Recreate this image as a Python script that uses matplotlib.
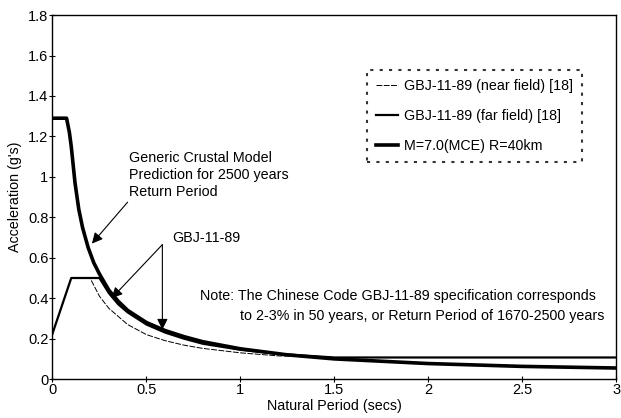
import matplotlib
matplotlib.use("Agg")
import matplotlib.pyplot as plt
from matplotlib.lines import Line2D

plt.rcParams['font.family'] = ['Liberation Sans', 'DejaVu Sans']

# M=7.0 (MCE) R=40km generic crustal model spectrum
mce_period = [0, 0.075, 0.09, 0.10, 0.11, 0.12, 0.14, 0.16, 0.19, 0.22, 0.25, 0.30,
              0.35, 0.40, 0.50, 0.60, 0.70, 0.80, 1.00, 1.25, 1.50, 2.00, 2.50, 3.00]
mce_acc = [1.29, 1.29, 1.22, 1.15, 1.06, 0.97, 0.84, 0.75, 0.65, 0.575, 0.52, 0.44,
           0.385, 0.34, 0.28, 0.24, 0.21, 0.185, 0.15, 0.12, 0.10, 0.077, 0.063, 0.055]

# GBJ-11-89 far field
far_period = [0, 0.10, 0.25, 0.30, 0.35, 0.40, 0.50, 0.60, 0.70, 0.80, 1.00, 1.20, 1.50, 3.00]
far_acc = [0.225, 0.50, 0.50, 0.425, 0.37, 0.33, 0.27, 0.23, 0.20, 0.175, 0.145, 0.125, 0.107, 0.107]

# GBJ-11-89 near field
near_period = [0, 0.10, 0.20, 0.25, 0.30, 0.40, 0.50, 0.60, 0.70, 0.80, 1.00, 1.20, 1.50, 3.00]
near_acc = [0.225, 0.50, 0.50, 0.41, 0.35, 0.27, 0.22, 0.19, 0.168, 0.152, 0.13, 0.115, 0.107, 0.107]

x_ticks = [0, 0.5, 1, 1.5, 2, 2.5, 3]
x_tick_labels = ["0", "0.5", "1", "1.5", "2", "2.5", "3"]
y_ticks = [0, 0.2, 0.4, 0.6, 0.8, 1.0, 1.2, 1.4, 1.6, 1.8]
y_tick_labels = ["0", "0.2", "0.4", "0.6", "0.8", "1", "1.2", "1.4", "1.6", "1.8"]

fig = plt.figure(figsize=(6.21, 4.18), dpi=100)
ax = fig.add_axes([0.0845, 0.093, 0.9075, 0.871])

ax.plot(near_period, near_acc, color='black', lw=0.7, ls=(0, (6, 1.5)), zorder=2)
ax.plot(far_period, far_acc, color='black', lw=1.6, zorder=3)
ax.plot(mce_period, mce_acc, color='black', lw=2.6, zorder=4, solid_joinstyle='round')

ax.set_xlim(0, 3)
ax.set_ylim(0, 1.8)
ax.set_xticks(x_ticks)
ax.set_xticklabels(x_tick_labels)
ax.set_yticks(y_ticks)
ax.set_yticklabels(y_tick_labels)
ax.tick_params(direction='inout', length=4, width=0.8, labelsize=10.5, pad=1)
for s in ax.spines.values():
    s.set_linewidth(1.0)

ax.set_xlabel("Natural Period (secs)", fontsize=10.3, labelpad=1)
ax.set_ylabel("Acceleration (g's)", fontsize=10.3, labelpad=4)

# annotations
fs = 10.3
arrow_kw = dict(arrowstyle='-|>', color='black', lw=0.8, mutation_scale=16,
                shrinkA=0, shrinkB=0)
ax.text(0.41, 1.01, "Generic Crustal Model\nPrediction for 2500 years\nReturn Period",
        fontsize=fs, ha='left', va='center', linespacing=1.3)
ax.annotate("", xy=(0.21, 0.67), xytext=(0.40, 0.875), arrowprops=arrow_kw)

ax.text(0.64, 0.70, "GBJ-11-89", fontsize=fs, ha='left', va='center')
ax.annotate("", xy=(0.315, 0.40), xytext=(0.585, 0.665), arrowprops=arrow_kw)
ax.annotate("", xy=(0.585, 0.245), xytext=(0.585, 0.665), arrowprops=arrow_kw)

ax.text(0.785, 0.41, "Note: The Chinese Code GBJ-11-89 specification corresponds",
        fontsize=fs, ha='left', va='center')
ax.text(1.0, 0.31, "to 2-3% in 50 years, or Return Period of 1670-2500 years",
        fontsize=fs, ha='left', va='center')

handles = [
    Line2D([], [], color='black', lw=0.7, ls=(0, (6, 1.5))),
    Line2D([], [], color='black', lw=1.6),
    Line2D([], [], color='black', lw=2.6),
]
labels = ["GBJ-11-89 (near field) [18]", "GBJ-11-89 (far field) [18]",
          "M=7.0(MCE) R=40km"]
leg = ax.legend(handles, labels, loc='upper left', bbox_to_anchor=(0.558, 0.848),
                fontsize=fs, frameon=True, fancybox=False, handlelength=1.6,
                handletextpad=0.4, labelspacing=1.12, borderpad=0.6,
                borderaxespad=0)
frame = leg.get_frame()
frame.set_edgecolor('black')
frame.set_linestyle((0, (1.5, 3)))
frame.set_linewidth(1.5)

fig.savefig("out.png", dpi=100)
